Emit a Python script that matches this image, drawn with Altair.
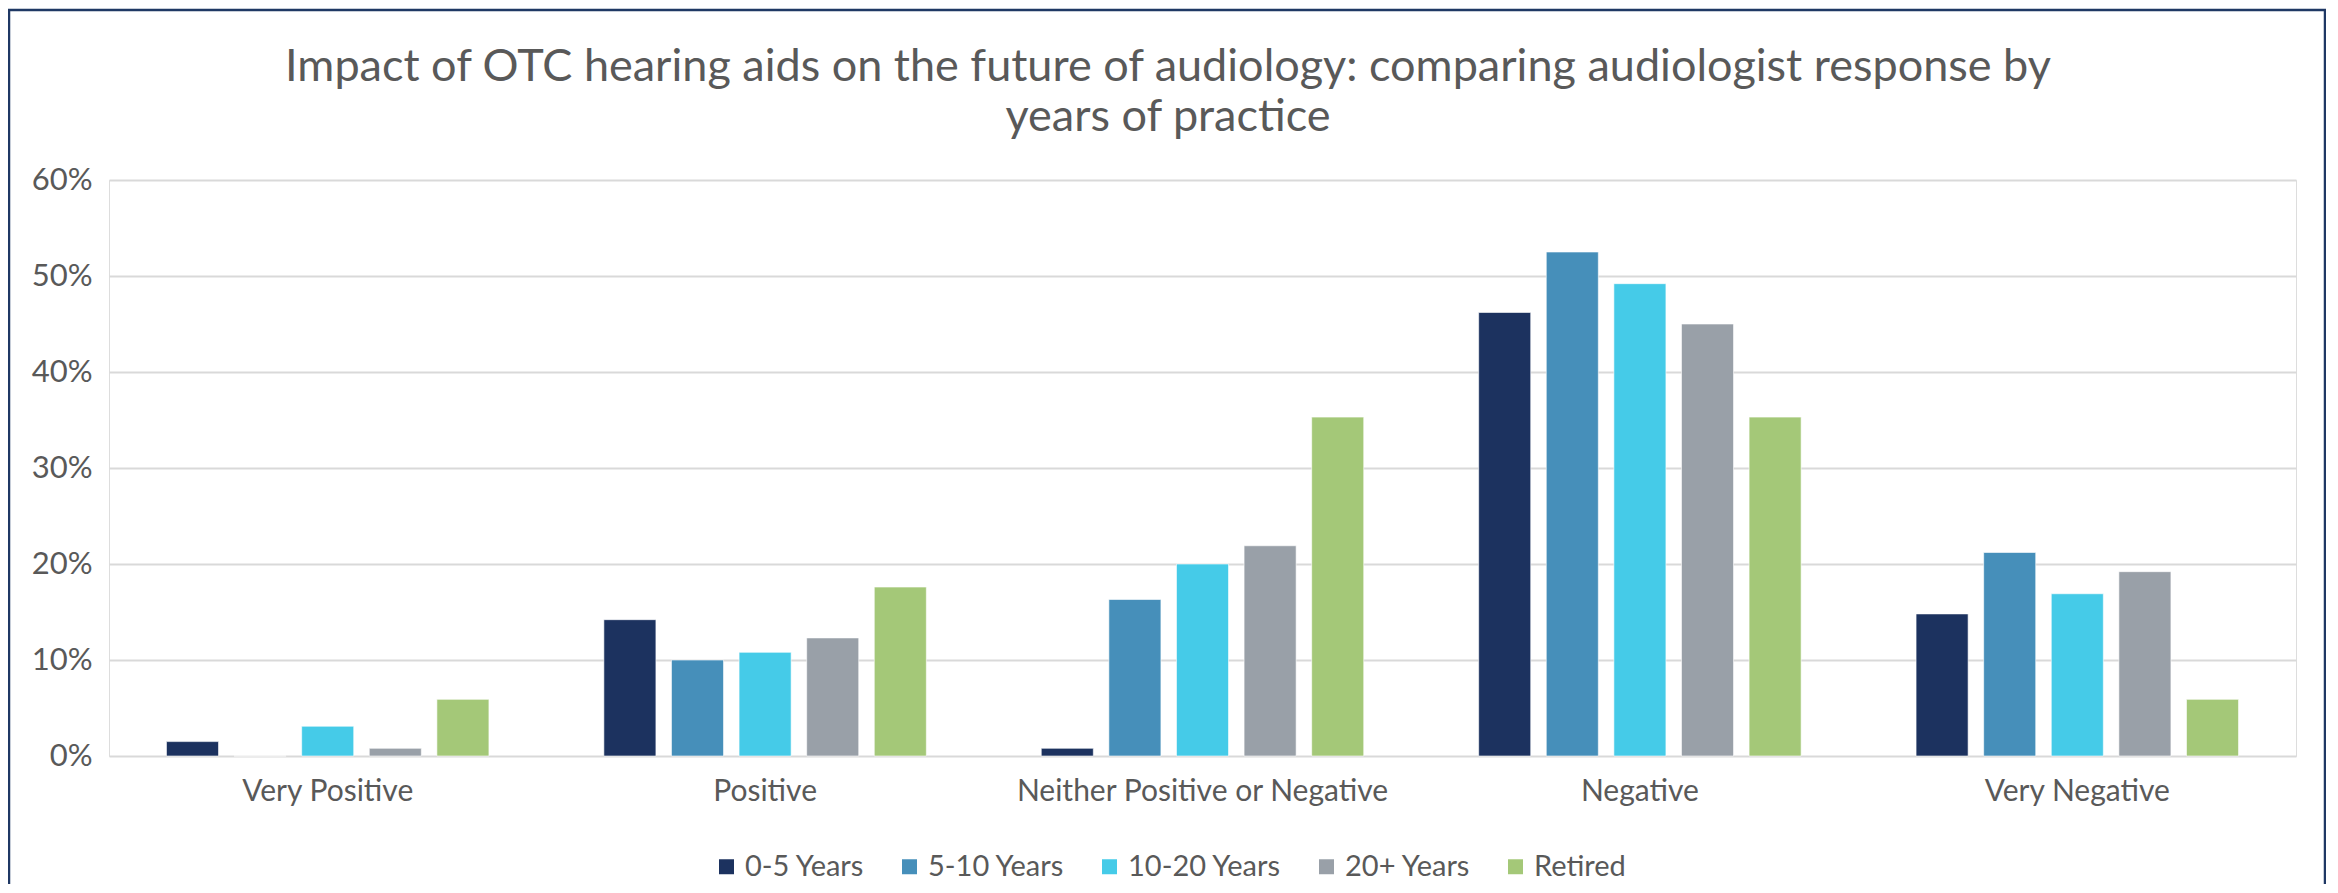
import altair as alt
import pandas as pd

categories = ["Very Positive", "Positive", "Neither Positive or Negative", "Negative", "Very Negative"]
groups = ["0-5 Years", "5-10 Years", "10-20 Years", "20+ Years", "Retired"]
colors = ["#1C325F", "#468FBA", "#45CBE8", "#99A0A8", "#A4C878"]

v_0_5 = [1.5, 14.2, 0.8, 46.2, 14.8]
v_5_10 = [0.0, 10.0, 16.3, 52.5, 21.2]
v_10_20 = [3.1, 10.8, 20.0, 49.2, 16.9]
v_20_plus = [0.8, 12.3, 21.9, 45.0, 19.2]
v_retired = [5.9, 17.6, 35.3, 35.3, 5.9]

title_line1 = "Impact of OTC hearing aids on the future of audiology: comparing audiologist response by"
title_line2 = "years of practice"

series = [v_0_5, v_5_10, v_10_20, v_20_plus, v_retired]
rows = []
for g, vals in zip(groups, series):
    for c, v in zip(categories, vals):
        rows.append({"category": c, "group": g, "value": v / 100.0})
df = pd.DataFrame(rows)

FONT = "Lato"
TXT = "#595959"

bars = alt.Chart(df).mark_bar(stroke="white", strokeWidth=1, strokeOpacity=0.6).encode(
    x=alt.X("category:N", sort=categories,
            scale=alt.Scale(paddingInner=0, paddingOuter=0),
            axis=alt.Axis(title=None, labelAngle=0, ticks=False, domain=False,
                          labelPadding=20, labelFontSize=30, labelFont=FONT,
                          labelColor=TXT, grid=False, labelLimit=1000)),
    xOffset=alt.XOffset("group:N", sort=groups,
                        scale=alt.Scale(paddingInner=0.23, paddingOuter=0.85)),
    y=alt.Y("value:Q", scale=alt.Scale(domain=[0, 0.6]),
            axis=alt.Axis(title=None, format=".0%", values=[0, 0.1, 0.2, 0.3, 0.4, 0.5, 0.6],
                          ticks=False, domain=False, labelPadding=17,
                          labelFontSize=31, labelFont=FONT, labelColor=TXT,
                          gridColor="#D9D9D9", gridWidth=2)),
    color=alt.Color("group:N", sort=groups,
                    scale=alt.Scale(domain=groups, range=colors),
                    legend=alt.Legend(title=None, orient="none", direction="horizontal",
                                      legendX=603, legendY=672,
                                      symbolType="square", symbolSize=225,
                                      symbolStrokeWidth=0, labelFontSize=29,
                                      labelFont=FONT, labelColor=TXT,
                                      labelOffset=4, columnPadding=30)),
)

border = alt.Chart(alt.Data(values=[{}])).mark_rect(
    filled=False, stroke="#1F3864", strokeWidth=2.5
).encode(
    x=alt.value(-100), x2=alt.value(2216),
    y=alt.value(-170), y2=alt.value(760),
)

t1 = alt.Chart(alt.Data(values=[{"t": title_line1}])).mark_text(
    font=FONT, fontSize=45, color=TXT, align="center", baseline="middle"
).encode(text="t:N", x=alt.value(1059), y=alt.value(-113))

t2 = alt.Chart(alt.Data(values=[{"t": title_line2}])).mark_text(
    font=FONT, fontSize=45, color=TXT, align="center", baseline="middle"
).encode(text="t:N", x=alt.value(1059), y=alt.value(-63))

chart = alt.layer(bars, border, t1, t2).properties(
    width=2187,
    height=576,
    padding={"left": 101, "top": 172, "right": 30, "bottom": 128},
    autosize=alt.AutoSizeParams(type="none"),
).configure_view(stroke="transparent", strokeWidth=0).configure(background="white")

chart.save("out.html", embed_options={"renderer": "svg", "actions": False})
